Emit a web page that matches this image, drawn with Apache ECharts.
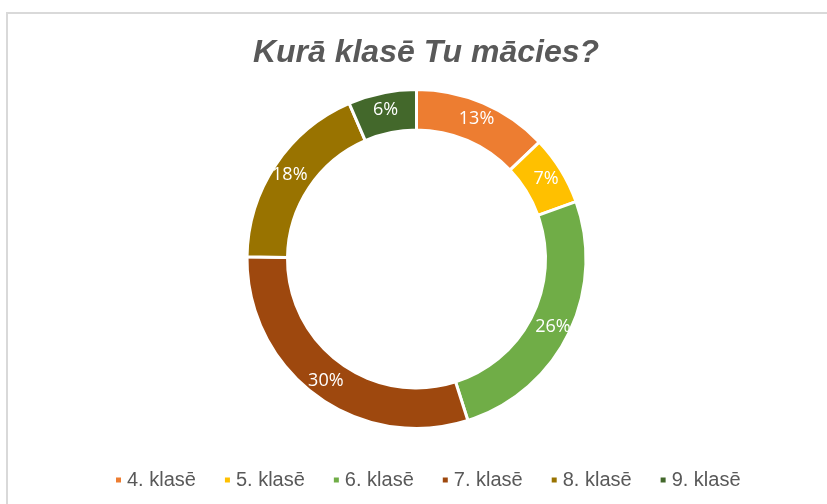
<!DOCTYPE html>
<html>
<head>
<meta charset="utf-8">
<script src="https://cdn.jsdelivr.net/npm/echarts@6/dist/echarts.min.js"></script>
<style>
  html, body { margin: 0; padding: 0; background: #fff; }
  #frame {
    position: absolute; left: 6px; top: 12px; width: 900px; height: 600px;
    border: 2px solid #d9d9d9; box-sizing: border-box;
  }
  #chart { position: absolute; left: 0; top: 0; width: 827px; height: 504px; }
</style>
</head>
<body>
<div id="frame"></div>
<div id="chart"></div>
<script>
const titleText = "Kurā klasē Tu mācies?";
const categories = ["4. klasē", "5. klasē", "6. klasē", "7. klasē", "8. klasē", "9. klasē"];
// shares (labels show them rounded)
const shares = [12.9, 6.6, 25.6, 30.1, 18.3, 6.5];
const colors = ["#ED7D31", "#FFC000", "#70AD47", "#9E480E", "#997300", "#43682B"];

const chart = echarts.init(document.getElementById("chart"));

const pieData = categories.map((name, i) => ({
  name: name,
  value: shares[i],
  itemStyle: { color: colors[i] }
}));

const option = {
  animation: false,
  title: {
    text: titleText,
    left: 426,
    top: 37,
    textAlign: "center",
    padding: 0,
    textStyle: {
      fontFamily: "Liberation Sans",
      fontSize: 32,
      fontStyle: "italic",
      fontWeight: "bold",
      color: "#595959"
    }
  },
  legend: {
    data: categories,
    left: 114,
    top: 470,
    icon: "rect",
    itemWidth: 7,
    itemHeight: 7,
    itemGap: 27,
    padding: 0,
    textStyle: {
      fontFamily: "Liberation Sans",
      fontSize: 20,
      color: "#595959"
    }
  },
  series: [{
    type: "pie",
    center: [416.5, 259],
    radius: [129, 169.5],
    startAngle: 90,
    clockwise: true,
    percentPrecision: 0,
    avoidLabelOverlap: false,
    itemStyle: { borderColor: "#fff", borderWidth: 3 },
    label: {
      show: true,
      position: "inside",
      formatter: "{d}%",
      color: "#fff",
      fontFamily: "Open Sans",
      fontSize: 18
    },
    labelLine: { show: false },
    emphasis: { disabled: true },
    data: pieData
  }]
};

chart.setOption(option);
</script>
</body>
</html>
